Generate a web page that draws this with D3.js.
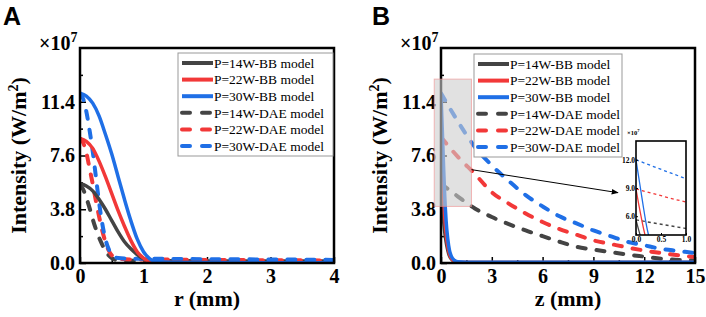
<!DOCTYPE html>
<html>
<head>
<meta charset="utf-8">
<script src="https://cdn.jsdelivr.net/npm/d3@7"></script>
<style>
  html, body { margin: 0; padding: 0; background: #fff; }
  svg { display: block; }
</style>
</head>
<body>
<div id="chart"></div>
<script>
// ---- data (values in units of 1e7 W/m^2) ----
const seriesNames = ["P=14W-BB model", "P=22W-BB model", "P=30W-BB model",
                     "P=14W-DAE model", "P=22W-DAE model", "P=30W-DAE model"];

// Panel A: intensity vs r (mm)
const rBB14 = [[0,5.6],[0.1,5.45],[0.2,5.1],[0.3,4.5],[0.4,3.8],[0.5,3.0],[0.6,2.2],[0.7,1.5],[0.8,1.0],[0.9,0.6],[1.0,0.3],[1.1,0.12],[1.2,0.05],[1.5,0.03],[4,0.02]];
const rBB22 = [[0,8.8],[0.1,8.6],[0.2,8.1],[0.3,7.2],[0.4,6.1],[0.5,4.9],[0.6,3.7],[0.7,2.6],[0.8,1.6],[0.9,0.8],[1.0,0.35],[1.1,0.1],[1.2,0.04],[1.5,0.03],[4,0.02]];
const rBB30 = [[0,12.0],[0.1,11.8],[0.2,11.3],[0.3,10.4],[0.4,9.1],[0.5,7.7],[0.6,6.1],[0.7,4.5],[0.8,3.0],[0.9,1.7],[1.0,0.8],[1.1,0.3],[1.2,0.1],[1.5,0.04],[4,0.02]];
const rDAE14 = [[0,5.5],[0.05,5.2],[0.1,4.6],[0.15,3.9],[0.2,3.1],[0.25,2.4],[0.3,1.8],[0.35,1.3],[0.4,0.85],[0.45,0.55],[0.5,0.35],[0.6,0.2],[1,0.15],[2,0.13],[4,0.12]];
const rDAE22 = [[0,8.8],[0.05,8.5],[0.1,7.8],[0.15,6.7],[0.2,5.6],[0.25,4.4],[0.3,3.3],[0.35,2.3],[0.4,1.5],[0.45,0.9],[0.5,0.55],[0.6,0.3],[0.8,0.25],[1,0.25],[2,0.22],[4,0.18]];
const rDAE30 = [[0,12.0],[0.05,11.6],[0.1,10.7],[0.15,9.4],[0.2,7.9],[0.25,6.1],[0.3,4.3],[0.35,2.8],[0.4,1.7],[0.45,1.0],[0.5,0.6],[0.6,0.35],[0.8,0.3],[1,0.3],[2,0.27],[3,0.25],[4,0.22]];

// Panel B: intensity vs z (mm)
const zBB14 = [[0,5.6],[0.05,4.6],[0.1,3.7],[0.15,3.0],[0.2,2.4],[0.3,1.5],[0.4,0.9],[0.5,0.5],[0.6,0.3],[0.8,0.1],[1,0.04],[1.5,0.03],[15,0.03]];
const zBB22 = [[0,8.9],[0.05,7.4],[0.1,6.0],[0.15,4.7],[0.2,3.6],[0.3,2.1],[0.4,1.2],[0.5,0.65],[0.6,0.35],[0.8,0.12],[1,0.05],[1.5,0.04],[15,0.04]];
const zBB30 = [[0,12.0],[0.05,10.3],[0.1,8.6],[0.15,6.9],[0.2,5.3],[0.25,4.0],[0.3,3.0],[0.4,1.7],[0.5,0.9],[0.6,0.5],[0.8,0.18],[1,0.08],[1.5,0.06],[15,0.06]];
const zDAE14 = [[0,5.6],[1,4.7],[2,3.85],[3,3.25],[4,2.75],[5,2.3],[6,1.9],[7,1.5],[8,1.15],[9,0.95],[10,0.77],[11,0.6],[12,0.45],[13,0.3],[14,0.22],[15,0.18]];
const zDAE22 = [[0,8.9],[1,7.5],[2,6.3],[3,5.0],[4,4.2],[5,3.5],[6,2.9],[7,2.4],[8,2.0],[9,1.6],[10,1.35],[11,1.1],[12,0.88],[13,0.7],[14,0.55],[15,0.42]];
const zDAE30 = [[0,12.0],[1,10.0],[2,8.2],[3,6.9],[4,5.8],[5,4.8],[6,4.0],[7,3.3],[8,2.8],[9,2.3],[10,1.9],[11,1.5],[12,1.25],[13,1.0],[14,0.85],[15,0.7]];

const yTicks = [0, 3.8, 7.6, 11.4];
const yMinor = [1.9, 5.7, 9.5, 13.3];
const rTicks = [0, 1, 2, 3, 4];
const zTicks = [0, 3, 6, 9, 12, 15];
const insetYTicks = [6, 9, 12];
const insetXTicks = [0, 0.5, 1];
const zoomBox = [-0.4, 1.8, 4.0, 13.0];   // z0, z1, I0, I1 of the highlighted region

// ---- layout ----
const W = 706, H = 317;
const colors = ["#444444", "#f23838", "#1f6fe6"];
const serif = "'Liberation Serif', 'Times New Roman', serif";

const svg = d3.select("#chart").append("svg")
  .attr("width", W).attr("height", H)
  .attr("viewBox", `0 0 ${W} ${H}`);

const yTop = 48, yBot = 263;

function panel(opt) {
  const x = d3.scaleLinear().domain(opt.xDomain).range([opt.left, opt.right]);
  const y = d3.scaleLinear().domain([0, 15.2]).range([yBot, yTop]);
  const g = svg.append("g");

  // minor ticks
  g.append("g")
    .attr("transform", `translate(${opt.left},0)`)
    .call(d3.axisLeft(y).tickValues(yMinor).tickSize(-3).tickFormat(""))
    .call(a => a.select(".domain").remove())
    .selectAll("line").attr("stroke", "#000").attr("stroke-width", 1.5);
  g.append("g")
    .attr("transform", `translate(0,${yBot})`)
    .call(d3.axisBottom(x).tickValues(opt.xMinor).tickSize(-3).tickFormat(""))
    .call(a => a.select(".domain").remove())
    .selectAll("line").attr("stroke", "#000").attr("stroke-width", 1.5);

  // major axes
  const ax = g.append("g")
    .attr("transform", `translate(0,${yBot})`)
    .call(d3.axisBottom(x).tickValues(opt.xTicks).tickSize(-6).tickPadding(6).tickFormat(d3.format("d")));
  const ay = g.append("g")
    .attr("transform", `translate(${opt.left},0)`)
    .call(d3.axisLeft(y).tickValues(yTicks).tickSize(-6).tickPadding(5).tickFormat(d3.format(".1f")));
  [ax, ay].forEach(a => {
    a.select(".domain").remove();
    a.selectAll("line").attr("stroke", "#000").attr("stroke-width", 1.5);
    a.selectAll("text").attr("font-family", serif).attr("font-weight", "bold")
      .attr("font-size", "20px").attr("fill", "#000");
  });

  // curves
  const line = d3.line().x(d => x(d[0])).y(d => y(d[1])).curve(d3.curveMonotoneX);
  const clipId = "clip" + opt.name;
  svg.append("clipPath").attr("id", clipId).append("rect")
    .attr("x", opt.left).attr("y", yTop).attr("width", opt.right - opt.left).attr("height", yBot - yTop);
  const cg = g.append("g").attr("clip-path", `url(#${clipId})`);
  opt.dashed.forEach((s, i) => {
    cg.append("path").datum(s)
      .attr("fill", "none").attr("stroke", colors[i]).attr("stroke-width", 4)
      .attr("stroke-dasharray", "8,11").attr("stroke-linecap", "round")
      .attr("d", line);
  });
  opt.solid.forEach((s, i) => {
    cg.append("path").datum(s)
      .attr("fill", "none").attr("stroke", colors[i]).attr("stroke-width", 3.5)
      .attr("d", line);
  });

  // frame
  g.append("rect")
    .attr("x", opt.left).attr("y", yTop)
    .attr("width", opt.right - opt.left).attr("height", yBot - yTop)
    .attr("fill", "none").attr("stroke", "#000").attr("stroke-width", 2.5);

  // axis titles
  g.append("text")
    .attr("x", (opt.left + opt.right) / 2).attr("y", 306)
    .attr("text-anchor", "middle")
    .attr("font-family", serif).attr("font-weight", "bold").attr("font-size", "22px")
    .text(opt.xLabel);
  const yl = g.append("text")
    .attr("transform", `translate(${opt.left - 54},${(yTop + yBot) / 2}) rotate(-90)`)
    .attr("text-anchor", "middle")
    .attr("font-family", serif).attr("font-weight", "bold").attr("font-size", "22px");
  yl.append("tspan").text("Intensity (W/m");
  yl.append("tspan").attr("font-size", "14px").attr("dy", -8).text("2");
  yl.append("tspan").attr("dy", 8).text(")");

  const mult = g.append("text")
    .attr("x", opt.left - 41).attr("y", 50)
    .attr("font-family", serif).attr("font-weight", "bold").attr("font-size", "20px");
  mult.append("tspan").text("×10");
  mult.append("tspan").attr("font-size", "14px").attr("dy", -8).text("7");

  // panel letter
  g.append("text")
    .attr("x", opt.letterX).attr("y", 25)
    .attr("font-family", "'Liberation Sans', Arial, sans-serif")
    .attr("font-weight", "bold").attr("font-size", "25px")
    .text(opt.letter);

  return { x, y, g, line };
}

function legend(x0, y0, w) {
  const lg = svg.append("g");
  lg.append("rect")
    .attr("x", x0).attr("y", y0).attr("width", w).attr("height", 103)
    .attr("fill", "#fff").attr("stroke", "#999").attr("stroke-width", 1);
  const rowY = d3.scalePoint().domain(seriesNames).range([y0 + 10, y0 + 93]);
  seriesNames.forEach((name, i) => {
    const yy = rowY(name);
    const dashed = i >= 3;
    lg.append("line")
      .attr("x1", x0 + 4).attr("x2", x0 + 35).attr("y1", yy).attr("y2", yy)
      .attr("stroke", colors[i % 3])
      .attr("stroke-width", 4)
      .attr("stroke-linecap", dashed ? "round" : "butt")
      .attr("stroke-dasharray", dashed ? "8,12" : null);
    lg.append("text")
      .attr("x", x0 + 36).attr("y", yy).attr("dy", "0.35em")
      .attr("font-family", serif).attr("font-size", "13.5px")
      .text(name);
  });
}

// Panel A
const A = panel({
  name: "A", letter: "A", letterX: 3,
  left: 80, right: 334, xDomain: [0, 4],
  xTicks: rTicks, xMinor: [0.5, 1.5, 2.5, 3.5], xLabel: "r (mm)",
  solid: [rBB14, rBB22, rBB30], dashed: [rDAE14, rDAE22, rDAE30]
});
legend(178, 53, 155);

// Panel B
const B = panel({
  name: "B", letter: "B", letterX: 372,
  left: 441, right: 695, xDomain: [0, 15],
  xTicks: zTicks, xMinor: [1.5, 4.5, 7.5, 10.5, 13.5], xLabel: "z (mm)",
  solid: [zBB14, zBB22, zBB30], dashed: [zDAE14, zDAE22, zDAE30]
});

// highlighted region
svg.append("rect")
  .attr("x", B.x(zoomBox[0])).attr("y", B.y(zoomBox[3]))
  .attr("width", B.x(zoomBox[1]) - B.x(zoomBox[0]))
  .attr("height", B.y(zoomBox[2]) - B.y(zoomBox[3]))
  .attr("fill", "rgba(205,205,205,0.6)")
  .attr("stroke", "rgba(240,140,140,0.6)").attr("stroke-width", 1);

legend(474, 54, 148);

// inset
const ix = d3.scaleLinear().domain([0, 1]).range([636, 686]);
const iy = d3.scaleLinear().domain([4, 14]).range([235, 141]);
const ig = svg.append("g");
ig.append("rect").attr("x", 636).attr("y", 141).attr("width", 50).attr("height", 94).attr("fill", "#fff");
svg.append("clipPath").attr("id", "clipInset").append("rect")
  .attr("x", 636).attr("y", 141).attr("width", 50).attr("height", 94);
const iline = d3.line().x(d => ix(d[0])).y(d => iy(d[1])).curve(d3.curveMonotoneX);
const icg = ig.append("g").attr("clip-path", "url(#clipInset)");
[zDAE14, zDAE22, zDAE30].forEach((s, i) => {
  icg.append("path").datum(s).attr("fill", "none").attr("stroke", colors[i])
    .attr("stroke-width", 1.3).attr("stroke-dasharray", "3,3").attr("d", iline);
});
[zBB14, zBB22, zBB30].forEach((s, i) => {
  icg.append("path").datum(s).attr("fill", "none").attr("stroke", colors[i])
    .attr("stroke-width", 1.3).attr("d", iline);
});
const iax = ig.append("g").attr("transform", "translate(0,235)")
  .call(d3.axisBottom(ix).tickValues(insetXTicks).tickSize(-2).tickPadding(2).tickFormat(d3.format(".1f")));
const iay = ig.append("g").attr("transform", "translate(636,0)")
  .call(d3.axisLeft(iy).tickValues(insetYTicks).tickSize(-2).tickPadding(1).tickFormat(d3.format(".1f")));
[iax, iay].forEach(a => {
  a.select(".domain").remove();
  a.selectAll("line").attr("stroke", "#000");
  a.selectAll("text").attr("font-family", serif).attr("font-weight", "bold")
    .attr("font-size", "7.5px").attr("fill", "#000");
});
ig.append("rect").attr("x", 636).attr("y", 141).attr("width", 50).attr("height", 94)
  .attr("fill", "none").attr("stroke", "#000").attr("stroke-width", 1.6);
const im = ig.append("text").attr("x", 627).attr("y", 135)
  .attr("font-family", serif).attr("font-weight", "bold").attr("font-size", "6.5px");
im.append("tspan").text("×10");
im.append("tspan").attr("font-size", "4.5px").attr("dy", -3).text("7");

// arrow from highlighted region to inset
svg.append("defs").append("marker")
  .attr("id", "arrow").attr("viewBox", "0 0 10 10").attr("refX", 9).attr("refY", 5)
  .attr("markerWidth", 7).attr("markerHeight", 7).attr("orient", "auto")
  .append("path").attr("d", "M0,1 L10,5 L0,9 Z").attr("fill", "#000");
svg.append("line")
  .attr("x1", B.x(zoomBox[1])).attr("y1", B.y(6.6))
  .attr("x2", ix(-0.36)).attr("y2", iy(8.5))
  .attr("stroke", "#000").attr("stroke-width", 1)
  .attr("marker-end", "url(#arrow)");
</script>
</body>
</html>
